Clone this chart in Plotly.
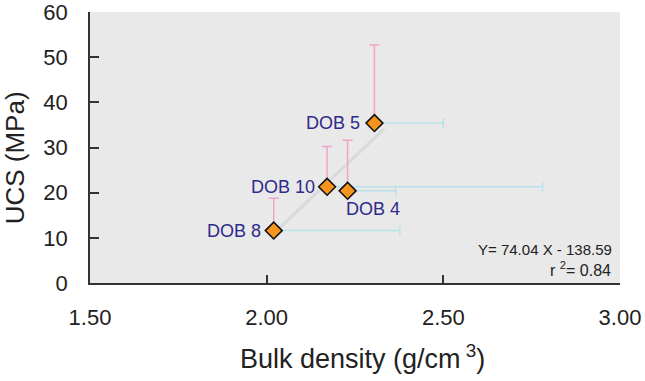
import plotly.graph_objects as go

# ---- data ----
sample_names = ["DOB 5", "DOB 10", "DOB 4", "DOB 8"]
bulk_density = [2.305, 2.171, 2.229, 2.020]
ucs_mpa = [35.4, 21.3, 20.4, 11.6]
ucs_err_plus = [17.3, 8.9, 11.2, 7.15]
density_err_plus = [0.195, 0.61, 0.136, 0.357]

fit_slope = 74.04
fit_intercept = -138.59
fit_x = [2.035, 2.333]
fit_y = [fit_slope * x + fit_intercept for x in fit_x]

x_tick_vals = [1.5, 2.0, 2.5, 3.0]
x_tick_text = ["1.50", "2.00", "2.50", "3.00"]
y_tick_vals = [0, 10, 20, 30, 40, 50, 60]

FONT = "Liberation Sans, Arial, sans-serif"
LABEL_COLOR = "#2e2a8c"

fig = go.Figure()

# regression line
fig.add_trace(go.Scatter(
    x=fit_x, y=fit_y, mode="lines",
    line=dict(color="#d8dbdb", width=3),
    hoverinfo="skip", showlegend=False,
))

# points with one-sided error bars
fig.add_trace(go.Scatter(
    x=bulk_density, y=ucs_mpa, mode="markers",
    marker=dict(symbol="diamond", size=13, color="#f7941d",
                line=dict(color="#111111", width=1.5)),
    error_y=dict(type="data", symmetric=False, array=ucs_err_plus,
                 arrayminus=[0] * len(ucs_mpa), color="#f2a3c9",
                 thickness=1.5, width=5),
    error_x=dict(type="data", symmetric=False, array=density_err_plus,
                 arrayminus=[0] * len(bulk_density), color="#b9e3ec",
                 thickness=1.5, width=5),
    showlegend=False,
))

# point labels
label_pos = {
    "DOB 5": dict(xanchor="right", xshift=-12, yshift=0),
    "DOB 10": dict(xanchor="right", xshift=-10, yshift=0),
    "DOB 4": dict(xanchor="left", xshift=-4, yshift=-18),
    "DOB 8": dict(xanchor="right", xshift=-11, yshift=0),
}
for name, xv, yv in zip(sample_names, bulk_density, ucs_mpa):
    p = label_pos[name]
    fig.add_annotation(
        x=xv, y=yv, xref="x", yref="y", text=name, showarrow=False,
        xanchor=p["xanchor"], yanchor="middle",
        xshift=p["xshift"], yshift=p["yshift"],
        font=dict(family=FONT, size=18, color=LABEL_COLOR),
    )

# equation text
fig.add_annotation(
    x=0.989, y=0.125, xref="paper", yref="paper",
    text="Y= 74.04 X - 138.59", showarrow=False,
    xanchor="right", yanchor="middle",
    font=dict(family=FONT, size=15, color="#222222"),
)
fig.add_annotation(
    x=0.987, y=0.05, xref="paper", yref="paper",
    text="r <sup>2</sup>= 0.84", showarrow=False,
    xanchor="right", yanchor="middle",
    font=dict(family=FONT, size=16, color="#222222"),
)

# axis titles
fig.add_annotation(
    x=0.515, y=-0.272, xref="paper", yref="paper",
    text="Bulk density (g/cm<sup> 3</sup>)", showarrow=False,
    xanchor="center", yanchor="middle",
    font=dict(family=FONT, size=27, color="#222222"),
)
fig.add_annotation(
    x=-0.1415, y=0.46, xref="paper", yref="paper",
    text="UCS (MPa)", showarrow=False, textangle=-90,
    xanchor="center", yanchor="middle",
    font=dict(family=FONT, size=26, color="#222222"),
)

fig.update_xaxes(
    range=[1.5, 3.0], tickvals=x_tick_vals, ticktext=x_tick_text,
    ticks="inside", ticklen=8, tickwidth=1.5, tickcolor="#333333",
    showline=True, linecolor="#333333", linewidth=1.5,
    showgrid=False, zeroline=False, automargin=False,
    ticklabeloverflow="allow",
    tickfont=dict(family=FONT, size=22, color="#222222"),
    ticklabelstandoff=14,
)
fig.update_yaxes(
    range=[0, 60], tickvals=y_tick_vals,
    ticks="inside", ticklen=9, tickwidth=1.5, tickcolor="#333333",
    showline=True, linecolor="#333333", linewidth=1.5,
    showgrid=False, zeroline=False, automargin=False,
    ticklabeloverflow="allow",
    tickfont=dict(family=FONT, size=22, color="#222222"),
    ticklabelstandoff=16,
)

fig.update_layout(
    width=645, height=381,
    margin=dict(l=90, r=25, t=12, b=98),
    plot_bgcolor="#e9e9e9", paper_bgcolor="white",
    showlegend=False,
)

# remove the browser's default 8px body margin so the figure fills the window
fig.write_html(
    "out.html",
    config={"displayModeBar": False},
    post_script="document.body.style.margin='0';document.body.style.overflow='hidden';",
)
